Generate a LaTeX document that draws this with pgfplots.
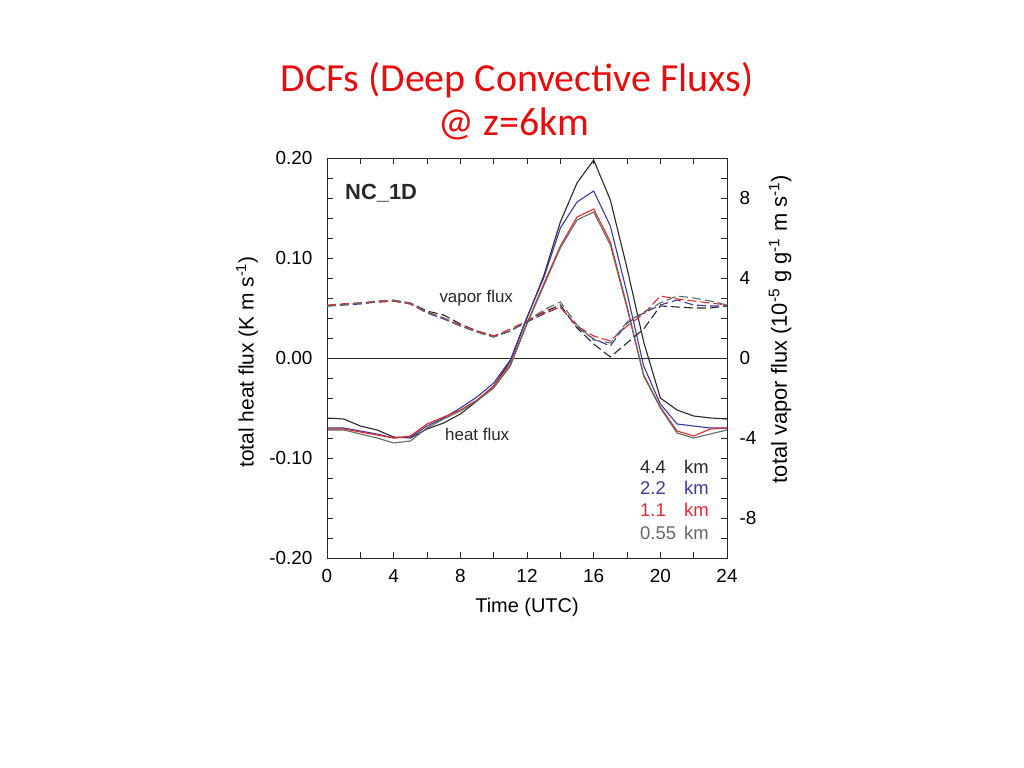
\documentclass[border=0pt]{standalone}
\usepackage{fontspec}
\setmainfont{Liberation Sans}
\newfontfamily\titlefont{Carlito}
\usepackage{pgfplots}
\pgfplotsset{compat=1.18}
\usepackage{pgfplotstable}

\definecolor{titlered}{RGB}{232,12,12}
\definecolor{cblack}{RGB}{40,40,40}
\definecolor{cblue}{RGB}{58,58,158}
\definecolor{cred}{RGB}{232,40,48}
\definecolor{cgray}{RGB}{96,108,96}

\pgfplotstableread{
h k44 k22 k11 k055
0 -0.060 -0.070 -0.071 -0.072
1 -0.061 -0.070 -0.071 -0.072
2 -0.068 -0.073 -0.074 -0.076
3 -0.072 -0.076 -0.077 -0.080
4 -0.079 -0.080 -0.080 -0.085
5 -0.080 -0.079 -0.078 -0.083
6 -0.071 -0.068 -0.066 -0.070
7 -0.065 -0.060 -0.059 -0.061
8 -0.056 -0.050 -0.052 -0.053
9 -0.043 -0.039 -0.042 -0.043
10 -0.028 -0.025 -0.028 -0.030
11 -0.003 -0.002 -0.006 -0.008
12 0.040 0.041 0.035 0.034
13 0.082 0.080 0.074 0.072
14 0.136 0.130 0.112 0.110
15 0.175 0.156 0.141 0.138
16 0.198 0.167 0.149 0.146
17 0.158 0.132 0.116 0.113
18 0.090 0.065 0.052 0.050
19 0.016 -0.008 -0.017 -0.018
20 -0.040 -0.046 -0.049 -0.050
21 -0.052 -0.066 -0.073 -0.075
22 -0.058 -0.068 -0.078 -0.080
23 -0.060 -0.070 -0.071 -0.076
24 -0.061 -0.070 -0.070 -0.072
}\heat

\pgfplotstableread{
h k44 k22 k11 k055
0 2.60 2.60 2.65 2.60
1 2.70 2.65 2.70 2.65
2 2.75 2.70 2.75 2.75
3 2.80 2.80 2.80 2.85
4 2.85 2.85 2.85 2.90
5 2.75 2.70 2.70 2.75
6 2.35 2.25 2.30 2.30
7 2.15 1.95 2.00 2.00
8 1.70 1.60 1.65 1.60
9 1.35 1.30 1.35 1.30
10 1.10 1.05 1.10 1.05
11 1.35 1.35 1.45 1.35
12 1.85 1.80 1.85 1.85
13 2.30 2.20 2.25 2.40
14 2.65 2.55 2.55 2.80
15 1.50 1.55 1.60 1.65
16 0.70 0.95 1.10 0.90
17 0.05 0.60 0.85 0.75
18 0.75 1.75 1.60 1.80
19 1.45 2.25 2.20 2.30
20 2.60 2.65 3.10 2.75
21 2.55 2.90 2.95 3.10
22 2.50 2.65 2.85 3.00
23 2.50 2.60 2.75 2.85
24 2.60 2.60 2.65 2.65
}\vapor

\pgfplotsset{
  common/.style={
    at={(327bp,210bp)}, anchor=south west,
    width=400bp, height=400bp, scale only axis,
    xmin=0, xmax=24,
    tick align=inside,
    major tick length=6bp, minor tick length=6bp,
    axis line style={cblack, line width=0.9bp},
    every tick/.style={cblack, line width=0.8bp},
    every minor tick/.style={cblack, line width=0.8bp},
    ticklabel style={font=\fontsize{19}{22}\selectfont},
    label style={font=\fontsize{21}{25}\selectfont},
    /pgf/number format/assume math mode=true,
  }
}

\begin{document}
\begin{tikzpicture}[x=1bp,y=1bp]
\useasboundingbox (0,0) rectangle (1024,768);

\node[anchor=base, text=titlered, font=\titlefont\fontsize{40}{44}\selectfont, inner sep=0] at (517,676) {DCFs (Deep Convective Fluxs)};
\node[anchor=base, text=titlered, font=\titlefont\fontsize{40}{44}\selectfont, inner sep=0] at (514,632) {@ z=6km};

\begin{axis}[common,
  ymin=-0.2, ymax=0.2,
  xtick={0,4,...,24}, xticklabels={0,4,8,12,16,20,24},
  minor xtick={2,6,...,22},
  xtick pos=both, xticklabel pos=bottom,
  xticklabel style={yshift=-8bp},
  ytick={-0.2,-0.1,0,0.1,0.2},
  yticklabels={-0.20,-0.10,0.00,0.10,0.20},
  minor ytick={-0.18,-0.16,-0.14,-0.12,-0.08,-0.06,-0.04,-0.02,0.02,0.04,0.06,0.08,0.12,0.14,0.16,0.18},
  ytick pos=left,
  yticklabel style={xshift=-11bp},
  xlabel={Time (UTC)},
  xlabel style={at={(axis description cs:0.5,-0.1225)}, anchor=center, font=\fontsize{20}{24}\selectfont},
  ylabel={total heat flux (K m s\textsuperscript{-1})},
  ylabel style={at={(axis description cs:-0.2,0.49)}, anchor=center},
]
\addplot[cblack, line width=0.7bp, forget plot] coordinates {(0,0) (24,0)};
\addplot[cblack, line width=1.1bp] table[x=h, y=k44] {\heat};
\addplot[cblue, line width=1.1bp] table[x=h, y=k22] {\heat};
\addplot[cred, line width=1.1bp] table[x=h, y=k11] {\heat};
\addplot[cgray, line width=1.1bp] table[x=h, y=k055] {\heat};
\end{axis}

\begin{axis}[common,
  hide x axis,
  ymin=-10, ymax=10,
  ytick={-8,-4,0,4,8},
  yticklabels={-8,-4,0,4,8},
  minor ytick={-9,-7,-6,-5,-3,-2,-1,1,2,3,5,6,7,9},
  ytick pos=right, yticklabel pos=right,
  yticklabel style={xshift=9bp, anchor=west},
  ylabel={total vapor flux (10\textsuperscript{-5} g g\textsuperscript{-1} m s\textsuperscript{-1})},
  ylabel style={at={(axis description cs:1.1325,0.572)}, anchor=center, font=\fontsize{22}{26}\selectfont},
]
\addplot[cblack, line width=1.1bp, dash pattern=on 9bp off 4bp] table[x=h, y=k44] {\vapor};
\addplot[cblue, line width=1.1bp, dash pattern=on 9bp off 4bp] table[x=h, y=k22] {\vapor};
\addplot[cred, line width=1.1bp, dash pattern=on 9bp off 4bp] table[x=h, y=k11] {\vapor};
\addplot[cgray, line width=1.1bp, dash pattern=on 9bp off 4bp] table[x=h, y=k055] {\vapor};
\end{axis}

\node[anchor=base west, inner sep=0, font=\bfseries\fontsize{22}{26}\selectfont, text=cblack] at (345,568) {NC\_1D};
\node[anchor=base west, inner sep=0, font=\fontsize{17}{20}\selectfont, text=cblack] at (439.3,465.3) {vapor flux};
\node[anchor=base west, inner sep=0, font=\fontsize{17}{20}\selectfont, text=cblack] at (445,327) {heat flux};

\begin{scope}[every node/.style={anchor=base west, inner sep=0, font=\fontsize{18.5}{21}\selectfont}]
\node[text=cblack] at (640,294.7) {4.4};
\node[text=cblack] at (684,294.7) {km};
\node[text=cblue] at (640,273) {2.2};
\node[text=cblue] at (684,273) {km};
\node[text=cred] at (640,251.3) {1.1};
\node[text=cred] at (684,251.3) {km};
\node[text=cgray] at (640,228) {0.55};
\node[text=cgray] at (684,228) {km};
\end{scope}
\end{tikzpicture}
\end{document}
